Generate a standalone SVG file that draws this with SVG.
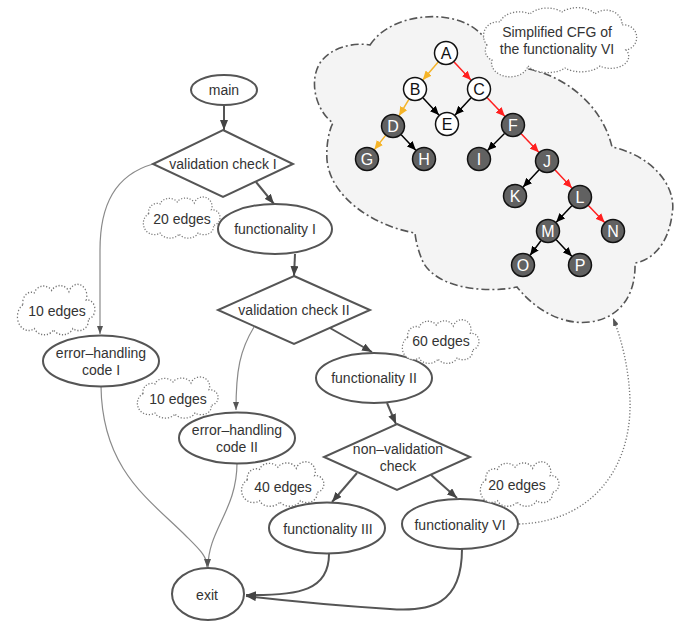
<svg xmlns="http://www.w3.org/2000/svg" width="681" height="631" viewBox="0 0 681 631">
<style>
text{font-family:"Liberation Sans",Arial,sans-serif;font-size:14px;fill:#333;text-anchor:middle}
.node{fill:#fff;stroke:#555;stroke-width:2}
.cloud{fill:#fff;stroke:#777;stroke-width:1.3;stroke-dasharray:1.2 1.8}
.main{fill:none;stroke:#555;stroke-width:2}
.thin{fill:none;stroke:#8a8a8a;stroke-width:1.2}
.dot{fill:none;stroke:#777;stroke-width:1.4;stroke-dasharray:1.2 2}
.tw{fill:#fff;stroke:#111;stroke-width:1.5}
.td{fill:#616161;stroke:#111;stroke-width:1.5}
.tl{font-size:16px;fill:#111}
.tld{font-size:16px;fill:#fff}
.eo{stroke:#f5b428;stroke-width:1.5}
.er{stroke:#ff1f1f;stroke-width:1.5}
.eb{stroke:#000;stroke-width:1.5}
</style>
<defs>
<marker id="ah" viewBox="0 0 10 8" refX="10" refY="4" markerWidth="10" markerHeight="8" orient="auto" markerUnits="userSpaceOnUse"><path d="M0,0 L10,4 L0,8 Z" fill="#444"/></marker>
<marker id="ahs" viewBox="0 0 8 6" refX="8" refY="3" markerWidth="8" markerHeight="6" orient="auto" markerUnits="userSpaceOnUse"><path d="M0,0 L8,3 L0,6 Z" fill="#555"/></marker>
<marker id="mo" viewBox="0 0 9 8" refX="9" refY="4" markerWidth="9" markerHeight="8" orient="auto" markerUnits="userSpaceOnUse"><path d="M0,0 L9,4 L0,8 Z" fill="#f5b428"/></marker>
<marker id="mr" viewBox="0 0 9 8" refX="9" refY="4" markerWidth="9" markerHeight="8" orient="auto" markerUnits="userSpaceOnUse"><path d="M0,0 L9,4 L0,8 Z" fill="#ff1f1f"/></marker>
<marker id="mb" viewBox="0 0 9 8" refX="9" refY="4" markerWidth="9" markerHeight="8" orient="auto" markerUnits="userSpaceOnUse"><path d="M0,0 L9,4 L0,8 Z" fill="#000"/></marker>
<path id="cl" d="M -34,-4 A 9 9 0 0 1 -22,-14 A 10 8 0 0 1 -4,-16 A 10 8 0 0 1 14,-15 A 9 9 0 0 1 32,-8 A 8 8 0 0 1 34,8 A 10 8 0 0 1 18,16 A 11 8 0 0 1 -2,17 A 11 8 0 0 1 -22,16 A 9 9 0 0 1 -34,-4 Z"/>
</defs>

<g id="cfg-cloud">
<path d="M 370,45 C 385,22 420,13 448,18 C 475,22 492,40 500,68 C 545,62 600,95 612,147 C 650,155 678,185 672,215 C 668,245 652,260 635,263 C 636,295 620,318 590,322 C 565,325 538,313 517,287 C 490,293 438,290 423,262 C 419,253 416,243 415,233 C 370,225 330,195 327,160 C 326,145 329,130 333,123 C 315,110 309,80 320,63 C 330,48 352,42 370,45 Z" fill="#f4f4f4" stroke="#555" stroke-width="1.6" stroke-dasharray="8 3 2 3"/>
</g>
<g id="cfg-label">
<path class="cloud" d="M 487,45 A 14 14 0 0 1 500,22 A 20 14 0 0 1 530,14 A 20 12 0 0 1 562,12 A 20 12 0 0 1 595,14 A 16 14 0 0 1 622,25 A 12 12 0 0 1 626,50 A 18 12 0 0 1 600,66 A 22 12 0 0 1 565,68 A 22 12 0 0 1 528,66 A 16 12 0 0 1 492,60 A 10 10 0 0 1 487,45 Z"/>
<text x="557" y="37">Simplified CFG of</text>
<text x="557" y="54">the functionality VI</text>
</g>

<g id="connectors">
<path class="main" d="M224,105 L224,130" marker-end="url(#ah)"/>
<path class="main" d="M256,182 L274,204" marker-end="url(#ah)"/>
<path class="main" d="M295,254 L294,276" marker-end="url(#ah)"/>
<path class="thin" d="M153,164 C115,175 100,205 100,250 L100,334" marker-end="url(#ahs)"/>
<path class="thin" d="M254,327 C240,350 236,370 236,410" marker-end="url(#ahs)"/>
<path class="main" d="M330,328 L372,352" marker-end="url(#ah)"/>
<path class="main" d="M387,403 L396,424" marker-end="url(#ah)"/>
<path class="main" d="M357,473 L332,502" marker-end="url(#ah)"/>
<path class="main" d="M431,475 L457,498" marker-end="url(#ah)"/>
<path class="thin" d="M101,386 C102,470 150,500 185,535 C200,550 207,556 207,567" marker-end="url(#ahs)"/>
<path class="thin" d="M237,463 C237,510 208,530 208,567" marker-end="url(#ahs)"/>
<path class="main" d="M329,554 C329,590 300,596 246,595" marker-end="url(#ah)"/>
<path class="main" d="M462,549 C462,605 430,612 390,609 C330,605 280,600 246,596" marker-end="url(#ah)"/>
<path class="dot" d="M519,524 C590,522 632,470 630,400 C629,370 622,340 613,318" marker-end="url(#ahs)"/>
<g id="cfg-edges">
<line class="eo" x1="438.2" y1="62.1" x2="422.8" y2="79.9" marker-end="url(#mo)"/>
<line class="er" x1="454.1" y1="61.9" x2="470.9" y2="80.1" marker-end="url(#mr)"/>
<line class="eo" x1="408.9" y1="99.3" x2="399.1" y2="115.7" marker-end="url(#mo)"/>
<line class="eb" x1="423.1" y1="97.9" x2="438.9" y2="115.1" marker-end="url(#mb)"/>
<line class="eb" x1="470.9" y1="97.9" x2="455.1" y2="115.1" marker-end="url(#mb)"/>
<line class="er" x1="487.2" y1="97.7" x2="504.8" y2="116.3" marker-end="url(#mr)"/>
<line class="eo" x1="385.6" y1="135.4" x2="374.4" y2="149.6" marker-end="url(#mo)"/>
<line class="eb" x1="401.2" y1="134.7" x2="415.8" y2="150.3" marker-end="url(#mb)"/>
<line class="eb" x1="504.5" y1="133.5" x2="487.5" y2="150.5" marker-end="url(#mb)"/>
<line class="er" x1="521.2" y1="133.7" x2="538.8" y2="152.3" marker-end="url(#mr)"/>
<line class="eb" x1="538.9" y1="169.9" x2="523.1" y2="187.1" marker-end="url(#mb)"/>
<line class="er" x1="555.1" y1="169.9" x2="571.9" y2="188.1" marker-end="url(#mr)"/>
<line class="eb" x1="571.8" y1="205.7" x2="556.2" y2="222.3" marker-end="url(#mb)"/>
<line class="er" x1="588.4" y1="205.6" x2="604.6" y2="222.4" marker-end="url(#mr)"/>
<line class="eb" x1="540.9" y1="240.7" x2="530.1" y2="255.3" marker-end="url(#mb)"/>
<line class="eb" x1="556.2" y1="239.7" x2="571.8" y2="256.3" marker-end="url(#mb)"/>
</g>
</g>

<g id="cfg-nodes">
<g id="nA"><circle class="tw" cx="446" cy="53" r="11.5"/><text class="tl" x="446" y="59">A</text></g>
<g id="nB"><circle class="tw" cx="415" cy="89" r="11.5"/><text class="tl" x="415" y="95">B</text></g>
<g id="nC"><circle class="tw" cx="479" cy="89" r="11.5"/><text class="tl" x="479" y="95">C</text></g>
<g id="nD"><circle class="td" cx="393" cy="126" r="11.5"/><text class="tld" x="393" y="132">D</text></g>
<g id="nE"><circle class="tw" cx="447" cy="124" r="11.5"/><text class="tl" x="447" y="130">E</text></g>
<g id="nF"><circle class="td" cx="513" cy="125" r="11.5"/><text class="tld" x="513" y="131">F</text></g>
<g id="nG"><circle class="td" cx="367" cy="159" r="11.5"/><text class="tld" x="367" y="165">G</text></g>
<g id="nH"><circle class="td" cx="424" cy="159" r="11.5"/><text class="tld" x="424" y="165">H</text></g>
<g id="nI"><circle class="td" cx="479" cy="159" r="11.5"/><text class="tld" x="479" y="165">I</text></g>
<g id="nJ"><circle class="td" cx="547" cy="161" r="11.5"/><text class="tld" x="547" y="167">J</text></g>
<g id="nK"><circle class="td" cx="515" cy="196" r="11.5"/><text class="tld" x="515" y="202">K</text></g>
<g id="nL"><circle class="td" cx="580" cy="197" r="11.5"/><text class="tld" x="580" y="203">L</text></g>
<g id="nM"><circle class="td" cx="548" cy="231" r="11.5"/><text class="tld" x="548" y="237">M</text></g>
<g id="nN"><circle class="td" cx="613" cy="231" r="11.5"/><text class="tld" x="613" y="237">N</text></g>
<g id="nO"><circle class="td" cx="523" cy="265" r="11.5"/><text class="tld" x="523" y="271">O</text></g>
<g id="nP"><circle class="td" cx="580" cy="265" r="11.5"/><text class="tld" x="580" y="271">P</text></g>
</g>

<g id="main"><ellipse class="node" cx="224" cy="90" rx="33" ry="15"/><text x="224" y="95">main</text></g>
<g id="vc1"><polygon class="node" points="223,130 293,164 223,197 153,164"/><text x="223" y="169">validation check I</text></g>
<g id="func1"><ellipse class="node" cx="275" cy="229" rx="57" ry="25"/><text x="275" y="234">functionality I</text></g>
<g id="vc2"><polygon class="node" points="294,276 370,310 294,344 218,310"/><text x="294" y="315">validation check II</text></g>
<g id="err1"><ellipse class="node" cx="101" cy="361" rx="58" ry="25.5"/><text x="101" y="358">error–handling</text><text x="101" y="375">code I</text></g>
<g id="err2"><ellipse class="node" cx="237" cy="438" rx="58" ry="25.5"/><text x="237" y="435">error–handling</text><text x="237" y="452">code II</text></g>
<g id="func2"><ellipse class="node" cx="374" cy="378" rx="58" ry="25"/><text x="374" y="383">functionality II</text></g>
<g id="nvc"><polygon class="node" points="397,424 470,457 397,490 324,457"/><text x="398" y="454">non–validation</text><text x="398" y="471">check</text></g>
<g id="func3"><ellipse class="node" cx="327" cy="528" rx="58" ry="25.5"/><text x="328" y="534">functionality III</text></g>
<g id="func6"><ellipse class="node" cx="460" cy="524" rx="58" ry="25"/><text x="460" y="530">functionality VI</text></g>
<g id="exit"><ellipse class="node" cx="208" cy="594" rx="36" ry="26"/><text x="207" y="600">exit</text></g>

<g id="label-20a"><use href="#cl" class="cloud" transform="translate(181,217.5) scale(0.95,0.97)"/><text x="182" y="224">20 edges</text></g>
<g id="label-10a"><use href="#cl" class="cloud" transform="translate(55.5,309.5) scale(0.96,1.19)"/><text x="57" y="316">10 edges</text></g>
<g id="label-10b"><use href="#cl" class="cloud" transform="translate(177,397.5) scale(1,0.97)"/><text x="178" y="404">10 edges</text></g>
<g id="label-60"><use href="#cl" class="cloud" transform="translate(440,341.5) scale(0.95,1.03)"/><text x="441" y="346">60 edges</text></g>
<g id="label-40"><use href="#cl" class="cloud" transform="translate(282,484) scale(1.02,1.05)"/><text x="283" y="492">40 edges</text></g>
<g id="label-20b"><use href="#cl" class="cloud" transform="translate(519,484) scale(0.975,1.05)"/><text x="517" y="490">20 edges</text></g>
</svg>
